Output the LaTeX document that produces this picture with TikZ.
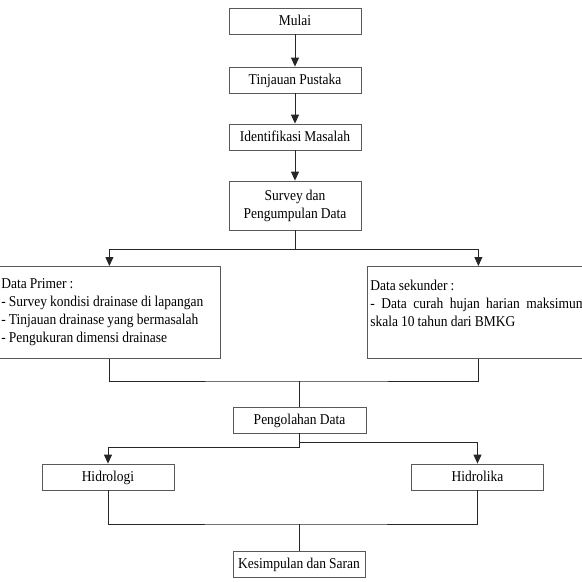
\documentclass[tikz,border=0pt]{standalone}
\usepackage{fontspec}
\setmainfont{Liberation Serif}[FakeStretch=0.9,WordSpace=0.9]
\usepackage{tikz}
\usetikzlibrary{arrows.meta}

\newcommand{\spasinormal}{\spaceskip=0pt\relax\xspaceskip=0pt\relax}

\begin{document}
\begin{tikzpicture}[x=1pt,y=-1pt,
  >={Triangle[length=9pt,width=8pt]},
  kotak/.style={draw=black!65,line width=0.8pt,minimum width=132pt,minimum height=26pt,
    inner sep=3pt,font=\fontsize{15pt}{18pt}\selectfont},
  satubaris/.style={kotak,text height=12pt,text depth=3pt},
  kotakdata/.style={kotak,anchor=north west,text width=216pt,align=left,minimum height=92pt},
  garis/.style={draw=black!85,line width=0.9pt}]

\useasboundingbox (0,0) rectangle (582,582);
\clip (0,0) rectangle (582,582);

\node[satubaris] (mulai) at (295,21) {Mulai};
\node[satubaris] (tinjauan) at (295,80) {Tinjauan Pustaka};
\node[satubaris] (identifikasi) at (295,137) {Identifikasi Masalah};
\node[kotak,minimum height=49pt,align=center] (survey) at (295,205.5) {Survey dan\\Pengumpulan Data};

\node[kotakdata] (primer) at (-2,266) {\spasinormal Data Primer :\\
- Survey kondisi drainase di lapangan\\
- Tinjauan drainase yang bermasalah\\
- Pengukuran dimensi drainase};
\node[kotakdata] (sekunder) at (367,266) {\spasinormal Data sekunder :\\
\makebox[216pt][s]{- Data curah hujan harian maksimum}\\
skala 10 tahun dari BMKG\\
\mbox{}};

\node[satubaris,minimum width=133pt] (olah) at (299.5,420) {Pengolahan Data};
\node[satubaris] (hidrologi) at (108,477) {Hidrologi};
\node[satubaris] (hidrolika) at (477.5,477) {Hidrolika};
\node[satubaris] (simpul) at (299,564) {Kesimpulan dan Saran};

\coordinate (gabung1) at (299.5,381);
\coordinate (gabung2) at (299,524);

\draw[garis,->] (mulai) -- (tinjauan);
\draw[garis,->] (tinjauan) -- (identifikasi);
\draw[garis,->] (identifikasi) -- (survey);

\draw[garis,->] (survey.south) -- ++(0,19) -| (primer.north);
\draw[garis,->] (survey.south) -- ++(0,19) -| (sekunder.north);

\draw[garis] (primer.south) |- (gabung1) -| (sekunder.south);
\draw[garis] (gabung1) -- (olah.north);

\draw[garis,->] (olah.south) -- ++(0,14) -| (hidrologi.north);
\draw[garis,->] (olah.south) -- ++(0,9) -| (hidrolika.north);

\draw[garis] (hidrologi.south) |- (gabung2) -| (hidrolika.south);
\draw[garis] (gabung2) -- (simpul.north);

\end{tikzpicture}
\end{document}
